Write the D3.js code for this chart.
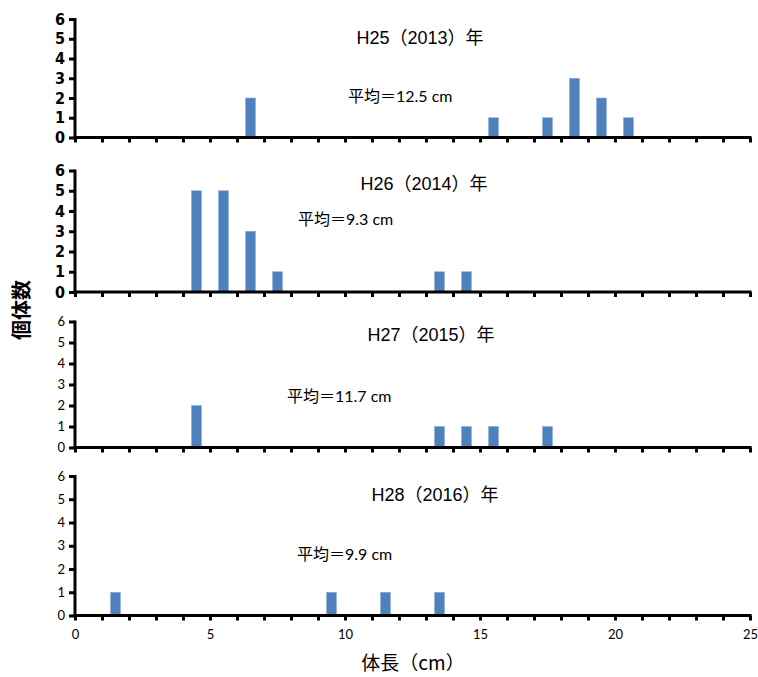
<!DOCTYPE html>
<html>
<head>
<meta charset="utf-8">
<script src="https://cdn.jsdelivr.net/npm/d3@7/dist/d3.min.js"></script>
<style>
  html, body { margin: 0; padding: 0; background: #fff; }
  svg { display: block; }
</style>
</head>
<body>
<div id="chart"></div>
<script>
// Body-length frequency (1 cm bins, bar at bin centre) for each survey year
const years = ["H25（2013）年", "H26（2014）年", "H27（2015）年", "H28（2016）年"];
const meanLabels = ["平均＝12.5 cm", "平均＝9.3 cm", "平均＝11.7 cm", "平均＝9.9 cm"];

const h25Lengths = [6.5, 15.5, 17.5, 18.5, 19.5, 20.5];
const h25Counts  = [2, 1, 1, 3, 2, 1];

const h26Lengths = [4.5, 5.5, 6.5, 7.5, 13.5, 14.5];
const h26Counts  = [5, 5, 3, 1, 1, 1];

const h27Lengths = [4.5, 13.5, 14.5, 15.5, 17.5];
const h27Counts  = [2, 1, 1, 1, 1];

const h28Lengths = [1.5, 9.5, 11.5, 13.5];
const h28Counts  = [1, 1, 1, 1];

const yTicks = [0, 1, 2, 3, 4, 5, 6];
const xTickLabels = [0, 5, 10, 15, 20, 25];

const seriesLengths = [h25Lengths, h26Lengths, h27Lengths, h28Lengths];
const seriesCounts = [h25Counts, h26Counts, h27Counts, h28Counts];

const W = 758, H = 677;
const svg = d3.select("#chart").append("svg").attr("width", W).attr("height", H);

const x = d3.scaleLinear().domain([0, 25]).range([75, 750]);
const barW = 10;
const barColor = "#4f81bd";

// Panel layout: plot top / bottom, title and mean-label positions
const panels = [
  { top: 19,  bottom: 137.5, titleX: 420, titleY: 44,  meanX: 348, meanY: 102, tickFont: "narrow" },
  { top: 170.5, bottom: 292, titleX: 424, titleY: 190, meanX: 298, meanY: 225, tickFont: "narrow" },
  { top: 321.5, bottom: 447.5, titleX: 431, titleY: 341, meanX: 287, meanY: 402, tickFont: "calibri" },
  { top: 476, bottom: 615.5, titleX: 435, titleY: 501, meanX: 297, meanY: 560, tickFont: "calibri" }
];

const narrowFont = "'Liberation Sans Narrow', 'Arial Narrow', 'DejaVu Sans Condensed', sans-serif";
const calibriFont = "Lato, 'Open Sans', sans-serif";
const jpFont = "'Liberation Sans', 'Noto Sans CJK JP', sans-serif";
const meanFont = "Lato, 'Noto Sans CJK JP', sans-serif";

panels.forEach((p, i) => {
  const y = d3.scaleLinear().domain([0, 6]).range([p.bottom, p.top]);
  const g = svg.append("g");

  // bars
  const data = seriesLengths[i].map((len, k) => ({ len, n: seriesCounts[i][k] }));
  g.selectAll("rect.bar").data(data).enter().append("rect")
    .attr("class", "bar")
    .attr("x", d => x(d.len) - barW / 2)
    .attr("y", d => y(d.n))
    .attr("width", barW)
    .attr("height", d => y(0) - y(d.n))
    .attr("fill", barColor)
    .attr("stroke", "#8fb0d8")
    .attr("stroke-width", 0.6);

  // y axis
  const yAxis = d3.axisLeft(y).tickValues(yTicks).tickSize(5).tickSizeOuter(0).tickFormat(d3.format("d"));
  const ya = g.append("g").attr("transform", `translate(${x(0)},0)`).call(yAxis);
  ya.select(".domain").attr("stroke", "#000").attr("stroke-width", 3)
    .attr("d", `M0,${p.top - 1}V${p.bottom}`);
  ya.selectAll(".tick line").attr("stroke", "#000").attr("stroke-width", 3).attr("x2", -6);
  ya.selectAll(".tick text")
    .attr("x", -10)
    .attr("fill", "#000")
    .style("font-family", p.tickFont === "narrow" ? narrowFont : calibriFont)
    .style("font-size", p.tickFont === "narrow" ? "16px" : "13px")
    .style("font-weight", p.tickFont === "narrow" ? "bold" : "normal");

  // x axis
  const isLast = i === panels.length - 1;
  const xAxis = d3.axisBottom(x).tickValues(d3.range(0, 26)).tickSize(5).tickSizeOuter(0)
    .tickFormat(d => (isLast && xTickLabels.includes(d)) ? d : "");
  const xa = g.append("g").attr("transform", `translate(0,${p.bottom})`).call(xAxis);
  xa.select(".domain").attr("stroke", "#000").attr("stroke-width", 3)
    .attr("d", `M${x(0) - 1.5},0H${x(25) + 1.5}`);
  xa.selectAll(".tick line").attr("stroke", "#000").attr("stroke-width", 3);
  xa.selectAll(".tick text")
    .attr("y", 14)
    .attr("fill", "#000")
    .style("font-family", calibriFont)
    .style("font-size", "13px");

  // title
  g.append("text")
    .attr("x", p.titleX).attr("y", p.titleY)
    .attr("text-anchor", "middle")
    .style("font-family", jpFont)
    .style("font-size", "18px")
    .attr("fill", "#000")
    .text(years[i]);

  // mean label
  g.append("text")
    .attr("x", p.meanX).attr("y", p.meanY)
    .style("font-family", meanFont)
    .style("font-size", "16px")
    .attr("fill", "#000")
    .text(meanLabels[i]);
});

// axis titles
svg.append("text")
  .attr("transform", "translate(29,310) rotate(-90)")
  .attr("text-anchor", "middle")
  .style("font-family", "'Noto Sans CJK JP', sans-serif")
  .style("font-size", "20px")
  .style("font-weight", "bold")
  .attr("fill", "#000")
  .text("個体数");

svg.append("text")
  .attr("x", 413).attr("y", 670)
  .attr("text-anchor", "middle")
  .style("font-family", "'Noto Sans CJK JP', sans-serif")
  .style("font-size", "19px")
  .attr("fill", "#000")
  .text("体長（cm）");
</script>
</body>
</html>
